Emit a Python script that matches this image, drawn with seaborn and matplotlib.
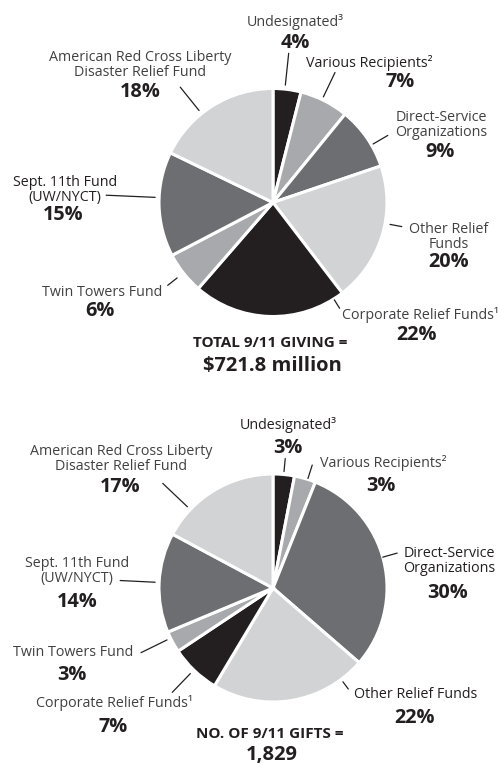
import numpy as np
import matplotlib
matplotlib.use("Agg")
import matplotlib.pyplot as plt
import seaborn as sns

# data
categories = ["Undesignated³", "Various Recipients²", "Direct-Service\nOrganizations",
              "Other Relief\nFunds", "Corporate Relief Funds¹", "Twin Towers Fund",
              "Sept. 11th Fund\n(UW/NYCT)", "American Red Cross Liberty\nDisaster Relief Fund"]
categories_b = ["Undesignated³", "Various Recipients²", "Direct-Service\nOrganizations",
                "Other Relief Funds", "Corporate Relief Funds¹", "Twin Towers Fund",
                "Sept. 11th Fund\n(UW/NYCT)", "American Red Cross Liberty\nDisaster Relief Fund"]
giving_pct = [4, 7, 9, 20, 22, 6, 15, 18]
gifts_pct = [3, 3, 30, 22, 7, 3, 14, 17]
totals = [("TOTAL 9/11 GIVING =", "$721.8 million"), ("NO. OF 9/11 GIFTS =", "1,829")]

BLACK = "#231f20"
MID = "#a7a9ac"
DARK = "#6d6e71"
LIGHT = "#d1d3d4"
colors = [BLACK, MID, DARK, LIGHT, BLACK, MID, DARK, LIGHT]

W, H = 498, 764

# layout, in pixel coordinates (y from top)
centers = [(273, 202.5), (273, 588)]
radius = 114
name_pos = [
    [(295, 22), (369, 63), (441, 125), (449, 237), (420, 315), (102, 292), (65, 190), (140, 65)],
    [(288, 425), (383, 463), (449, 561), (416, 695), (114, 703), (73, 653), (77, 571), (121, 459)],
]
pct_pos = [
    [(295, 43), (400, 82), (440, 152), (449, 262), (417, 335), (100, 311), (63, 215), (140, 92)],
    [(288, 448), (381, 486), (448, 593), (415, 718), (113, 727), (72, 675), (77, 602), (120, 487)],
]
# leader lines: angle (deg), inner r, outer r
leaders = [
    [(84, 118, 150), (64.5, 117, 144), (30.3, 116, 133), (-10.6, 119, 131),
     (-57.8, 115, 125), (218.2, 122, 134), (177.5, 118, 167), (128.8, 118, 148)],
    [(84.6, 117, 130), (72.3, 115, 129), (15.7, 114, 129), (-53.3, 117, 126),
     (226, 119, 145), (206.1, 118, 147), (177.2, 118, 153), (136.5, 118, 152)],
]
dark_names = [[1, 6], [0, 2, 3]]
total_pos = [[(270, 343), (272, 366)], [(270, 734), (272, 755)]]

sns.set_theme(style="white")
plt.rcParams["font.family"] = ["Open Sans", "DejaVu Sans"]

fig = plt.figure(figsize=(W / 100, H / 100), dpi=100)
ax = fig.add_axes([0, 0, 1, 1])


def fy(y):
    return H - y


for k, (vals, names) in enumerate([(giving_pct, categories), (gifts_pct, categories_b)]):
    cx, cy = centers[k]
    ax.pie(vals, colors=colors, startangle=90, counterclock=False,
           center=(cx, fy(cy)), radius=radius, normalize=True,
           wedgeprops=dict(edgecolor="white", linewidth=2.2))
    for i, (name, v) in enumerate(zip(names, vals)):
        nx, ny = name_pos[k][i]
        col = BLACK if i in dark_names[k] else "#414042"
        ax.text(nx, fy(ny), name, ha="center", va="center", fontsize=10.3,
                color=col, linespacing=0.92)
        px, py = pct_pos[k][i]
        ax.text(px, fy(py), f"{v}%", ha="center", va="center", fontsize=14.3,
                fontweight="bold", color=BLACK)
        a, r0, r1 = leaders[k][i]
        t = np.deg2rad(a)
        ax.plot([cx + r0 * np.cos(t), cx + r1 * np.cos(t)],
                [fy(cy) + r0 * np.sin(t), fy(cy) + r1 * np.sin(t)],
                color=BLACK, lw=0.9)
    (t1, t2) = totals[k]
    ax.text(total_pos[k][0][0], fy(total_pos[k][0][1]), t1, ha="center", va="center",
            fontsize=11, fontweight="bold", color=BLACK)
    ax.text(total_pos[k][1][0], fy(total_pos[k][1][1]), t2, ha="center", va="center",
            fontsize=14.5, fontweight="bold", color=BLACK)

ax.set_xlim(0, W)
ax.set_ylim(0, H)
ax.set_aspect("equal")
ax.axis("off")
fig.savefig("out.png", dpi=100, facecolor="white")
